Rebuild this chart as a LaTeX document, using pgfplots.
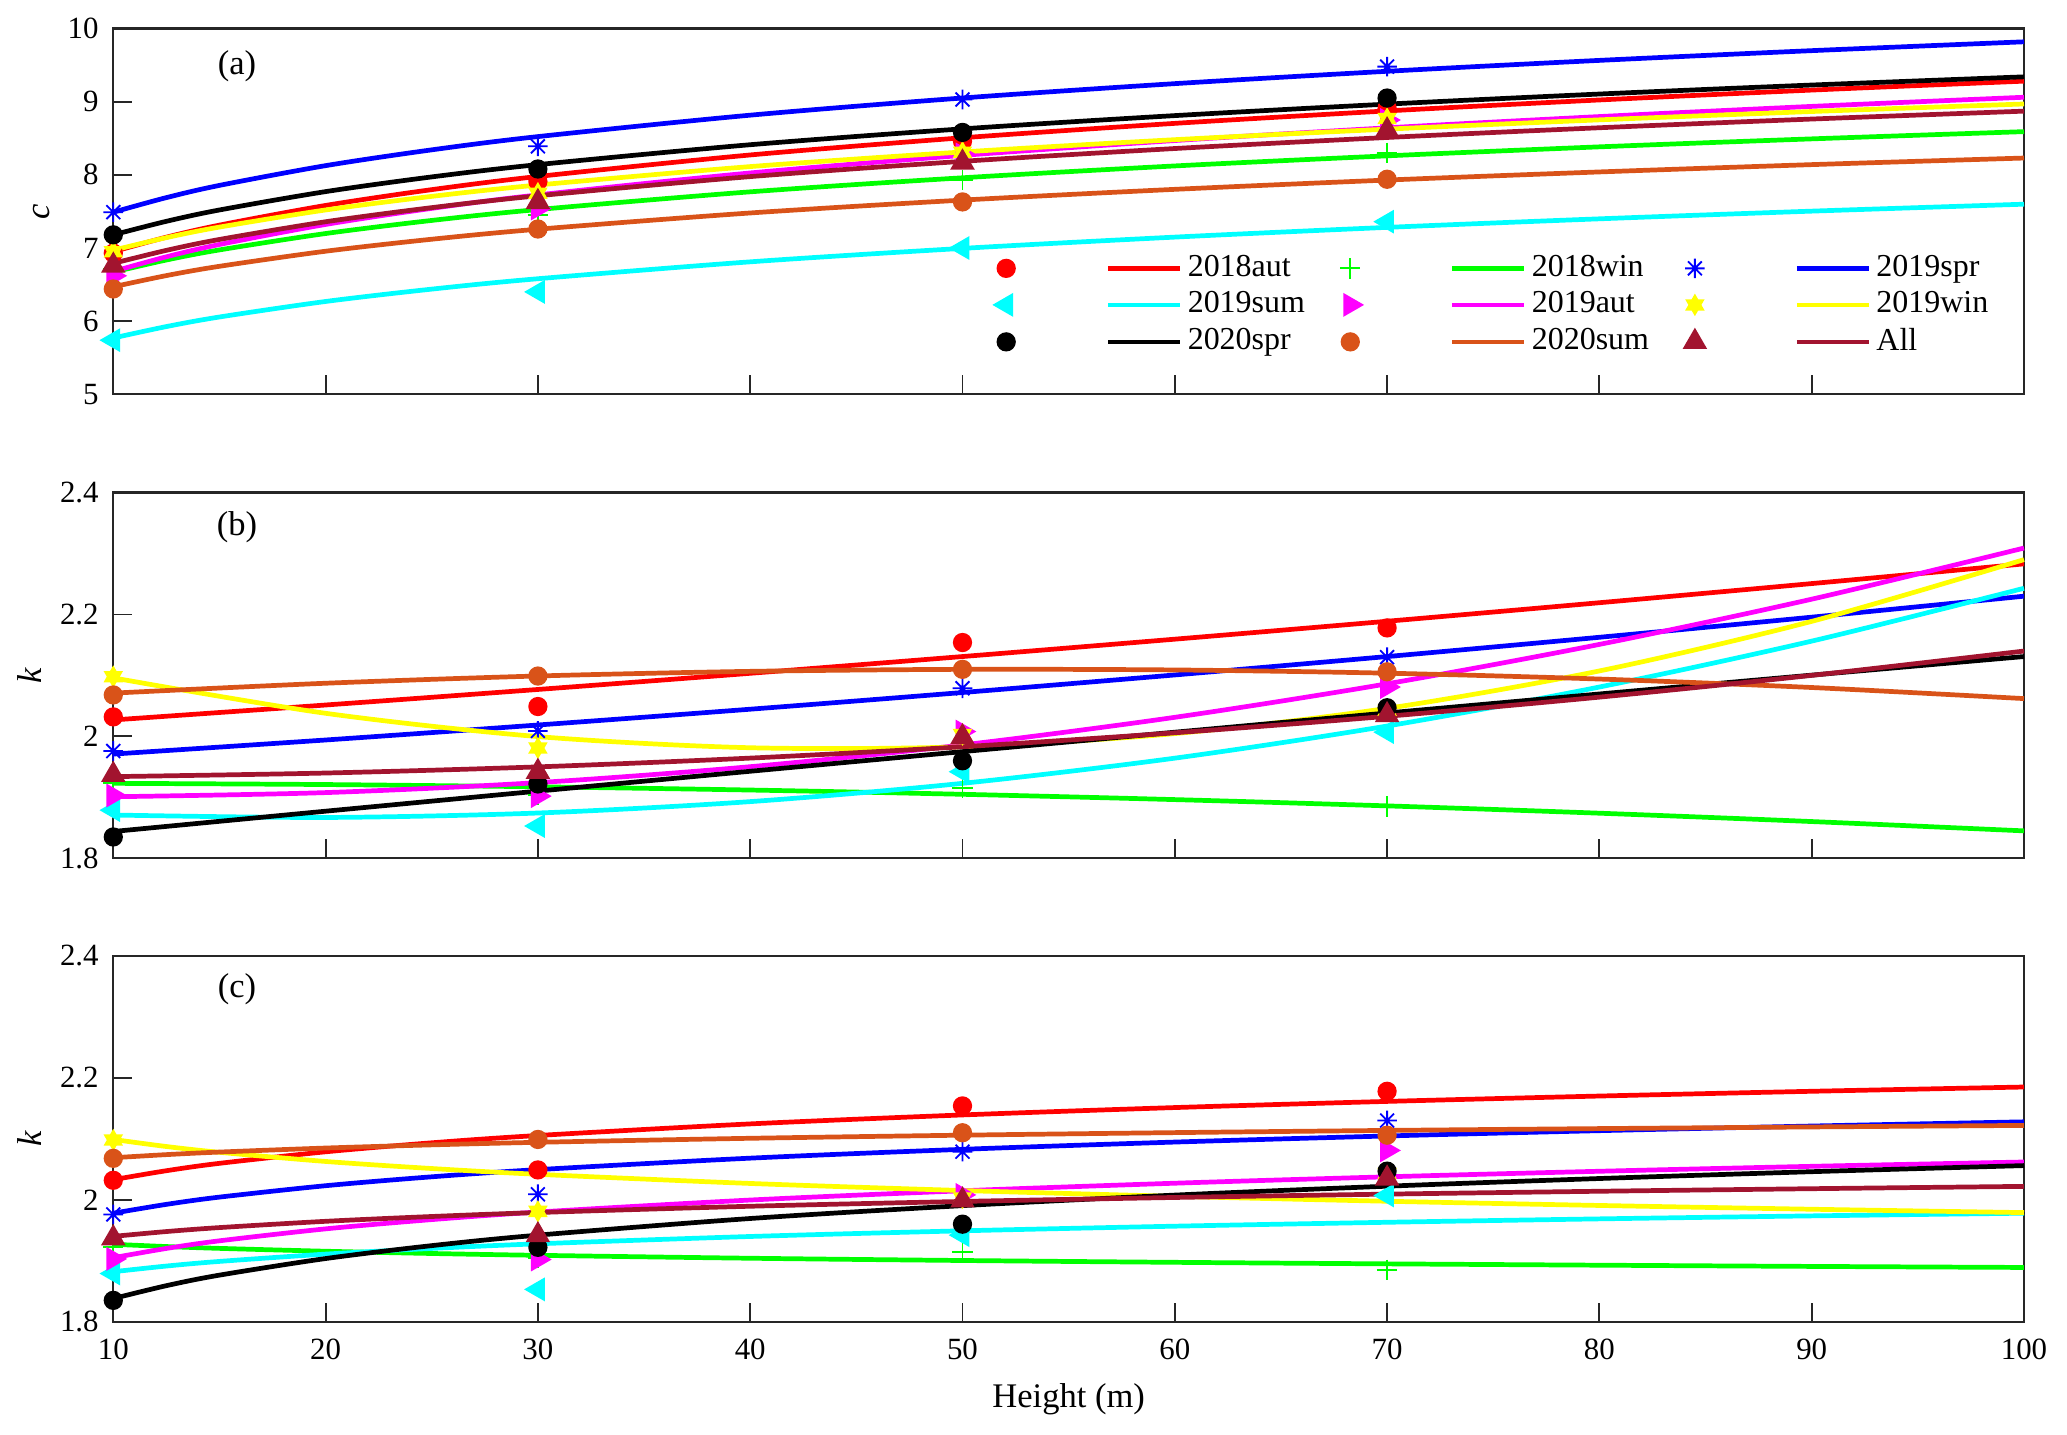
\documentclass[border=0pt]{standalone}
\usepackage{fontspec}
\setmainfont{Liberation Serif}
\usepackage{pgfplots}
\usepackage{pgfplotstable}
\pgfplotsset{compat=1.18}
\usetikzlibrary{plotmarks}

\definecolor{mred}{rgb}{1,0,0}
\definecolor{mgreen}{rgb}{0,1,0}
\definecolor{mblue}{rgb}{0,0,1}
\definecolor{mcyan}{rgb}{0,1,1}
\definecolor{mmag}{rgb}{1,0,1}
\definecolor{myel}{rgb}{1,1,0}
\definecolor{morange}{rgb}{0.85,0.325,0.098}
\definecolor{mall}{rgb}{0.635,0.078,0.184}

\pgfdeclareplotmark{mstar}{%
  \pgfpathmoveto{\pgfqpoint{0pt}{\pgfplotmarksize}}\pgfpathlineto{\pgfqpoint{0pt}{-\pgfplotmarksize}}%
  \pgfpathmoveto{\pgfqpoint{\pgfplotmarksize}{0pt}}\pgfpathlineto{\pgfqpoint{-\pgfplotmarksize}{0pt}}%
  \pgfpathmoveto{\pgfqpoint{0.7071\pgfplotmarksize}{0.7071\pgfplotmarksize}}\pgfpathlineto{\pgfqpoint{-0.7071\pgfplotmarksize}{-0.7071\pgfplotmarksize}}%
  \pgfpathmoveto{\pgfqpoint{0.7071\pgfplotmarksize}{-0.7071\pgfplotmarksize}}\pgfpathlineto{\pgfqpoint{-0.7071\pgfplotmarksize}{0.7071\pgfplotmarksize}}%
  \pgfusepathqstroke}
\pgfdeclareplotmark{hexagram}{%
  \pgfpathmoveto{\pgfqpointpolar{90}{\pgfplotmarksize}}%
  \pgfpathlineto{\pgfqpointpolar{210}{\pgfplotmarksize}}%
  \pgfpathlineto{\pgfqpointpolar{330}{\pgfplotmarksize}}%
  \pgfpathclose
  \pgfpathmoveto{\pgfqpointpolar{270}{\pgfplotmarksize}}%
  \pgfpathlineto{\pgfqpointpolar{30}{\pgfplotmarksize}}%
  \pgfpathlineto{\pgfqpointpolar{150}{\pgfplotmarksize}}%
  \pgfpathclose
  \pgfusepathqfillstroke}

\tikzset{
  s18aut/.style={color=mred, mark=*, mark size=2.4pt},
  s18win/.style={color=mgreen, mark=+, mark size=2.8pt},
  s19spr/.style={color=mblue, mark=mstar, mark size=2.7pt},
  s19sum/.style={color=mcyan, mark=triangle*, mark size=3.3pt, mark options={rotate=90}},
  s19aut/.style={color=mmag, mark=triangle*, mark size=3.3pt, mark options={rotate=-90}},
  s19win/.style={color=myel, mark=hexagram, mark size=2.6pt},
  s20spr/.style={color=black, mark=*, mark size=2.4pt},
  s20sum/.style={color=morange, mark=*, mark size=2.4pt},
  sall/.style={color=mall, mark=triangle*, mark size=3.4pt},
}
\pgfplotsset{
  lineopt/.style={mark=none, line width=1.3pt, smooth},
  markopt/.style={only marks, line width=0.5pt},
  myaxis/.style={
    scale only axis, width=18.488cm, height=3.539cm,
    xmin=10, xmax=100, xtick={10,20,...,100},
    axis line style={black!85, line width=0.6pt},
    tick style={black!85, line width=0.5pt},
    tick align=inside, major tick length=0.185cm,
    tick pos=left,
    clip=false,
    /pgf/number format/assume math mode=true,
    tick label style={font=\fontsize{8.5}{10}\selectfont},
    yticklabel style={inner xsep=0pt, xshift=-0.135cm},
    xticklabel style={anchor=center, yshift=-0.27cm},
    label style={font=\fontsize{9.5}{11}\selectfont},
  },
}

% fitted curves, panel (a): c
\pgfplotstableread{
x    red   grn   blue  cyan  mag   yel   blk   org   all
10   6.950 6.670 7.490 5.770 6.680 6.970 7.180 6.470 6.790
12.5 7.148 6.836 7.689 5.926 6.880 7.142 7.365 6.623 6.968
15   7.313 6.974 7.856 6.057 7.048 7.286 7.520 6.750 7.117
20   7.582 7.198 8.126 6.269 7.322 7.520 7.771 6.956 7.359
25   7.798 7.377 8.342 6.438 7.542 7.706 7.972 7.120 7.552
30   7.978 7.526 8.523 6.580 7.726 7.861 8.140 7.257 7.714
40   8.272 7.768 8.816 6.811 8.026 8.113 8.412 7.479 7.976
50   8.507 7.960 9.051 6.995 8.266 8.313 8.629 7.655 8.185
60   8.704 8.122 9.247 7.149 8.469 8.481 8.810 7.802 8.360
70   8.874 8.260 9.416 7.282 8.643 8.625 8.967 7.929 8.511
80   9.024 8.383 9.565 7.399 8.797 8.752 9.105 8.040 8.644
90   9.159 8.492 9.698 7.504 8.936 8.866 9.228 8.140 8.763
100  9.281 8.591 9.819 7.599 9.061 8.969 9.340 8.230 8.871
}\LA
% measured points, panel (a)
\pgfplotstableread{
x  red  grn  blue cyan mag  yel  blk  org  all
10 6.93 6.71 7.49 5.74 6.62 6.95 7.18 6.44 6.76
30 7.91 7.45 8.39 6.40 7.54 7.75 8.08 7.26 7.63
50 8.46 7.93 9.03 7.00 8.28 8.31 8.58 7.63 8.17
70 8.91 8.30 9.48 7.36 8.75 8.77 9.05 7.94 8.61
}\MA
% fitted curves, panel (b)
\pgfplotstableread{
x   red    grn    blue   cyan   mag    yel    blk    org    all
10  2.027  1.923  1.971  1.871  1.901  2.096  1.844  2.071  1.934
20  2.0515 1.921  1.9941 1.867  1.9078 2.0379 1.8773 2.0872 1.9399
30  2.077  1.9173 2.0187 1.8743 1.9242 1.9997 1.9102 2.0991 1.950
40  2.1035 1.912  2.0446 1.893  1.9503 1.9814 1.9428 2.1067 1.9644
50  2.131  1.905  2.072  1.923  1.986  1.983  1.975  2.110  1.983
60  2.1595 1.8963 2.1008 1.9643 2.0313 2.0046 2.0069 2.109  2.0059
70  2.1889 1.886  2.131  2.017  2.0863 2.046  2.0384 2.1037 2.033
80  2.2193 1.874  2.1626 2.081  2.1509 2.1074 2.0696 2.0941 2.0644
90  2.2507 1.8603 2.1956 2.1563 2.2251 2.1887 2.1005 2.0802 2.1001
100 2.283  1.845  2.230  2.243  2.309  2.290  2.131  2.062  2.140
}\LB
% fitted curves, panel (c)
\pgfplotstableread{
x    red    grn    blue   cyan   mag    yel    blk    org    all
10   2.033  1.927  1.978  1.882  1.905  2.099  1.838  2.069  1.940
12.5 2.0477 1.9233 1.9925 1.8913 1.9202 2.0874 1.8591 2.0741 1.9479
15   2.0598 1.9203 2.0044 1.8989 1.9327 2.0779 1.8764 2.0783 1.9544
20   2.0787 1.9156 2.0231 1.9109 1.9523 2.0629 1.9036 2.0849 1.9647
25   2.0935 1.9119 2.0377 1.9202 1.9675 2.0513 1.9248 2.0901 1.9726
30   2.1055 1.9089 2.0495 1.9278 1.9799 2.0418 1.9420 2.0943 1.9791
40   2.1245 1.9041 2.0683 1.9398 1.9996 2.0268 1.9693 2.1009 1.9894
50   2.1392 1.9004 2.0828 1.9491 2.0148 2.0152 1.9904 2.1060 1.9973
60   2.1513 1.8974 2.0947 1.9567 2.0272 2.0057 2.0077 2.1102 2.0038
70   2.1614 1.8949 2.1047 1.9631 2.0377 1.9976 2.0223 2.1138 2.0093
80   2.1702 1.8927 2.1134 1.9687 2.0468 1.9907 2.0349 2.1168 2.0140
90   2.1780 1.8907 2.1210 1.9736 2.0549 1.9845 2.0461 2.1195 2.0182
100  2.1850 1.8890 2.1279 1.9780 2.0620 1.9790 2.0561 2.1220 2.0220
}\LC
% measured points k, panels (b) and (c)
\pgfplotstableread{
x  red   grn   blue  cyan  mag   yel   blk   org   all
10 2.032 1.923 1.976 1.879 1.903 2.098 1.835 2.068 1.937
30 2.049 1.904 2.009 1.853 1.902 1.981 1.922 2.099 1.942
50 2.154 1.915 2.079 1.942 2.008 2.003 1.960 2.110 1.999
70 2.178 1.885 2.130 2.007 2.081 2.043 2.047 2.106 2.035
}\MK

\newcommand{\oneseries}[4]{% style, column, lines table, marks table
  \addplot[#1, markopt, forget plot] table[x=x, y=#2]{#4};
  \addplot[#1, lineopt, forget plot] table[x=x, y=#2]{#3};
}
\newcommand{\allseries}[2]{%
  \oneseries{s18aut}{red}{#1}{#2}
  \oneseries{s18win}{grn}{#1}{#2}
  \oneseries{s19spr}{blue}{#1}{#2}
  \oneseries{s19sum}{cyan}{#1}{#2}
  \oneseries{s19aut}{mag}{#1}{#2}
  \oneseries{s19win}{yel}{#1}{#2}
  \oneseries{s20spr}{blk}{#1}{#2}
  \oneseries{s20sum}{org}{#1}{#2}
  \oneseries{sall}{all}{#1}{#2}
}

\begin{document}
\begin{tikzpicture}
% ---------- (a) ----------
\begin{axis}[myaxis, at={(0cm,8.9734cm)}, anchor=south west,
  ymin=5, ymax=10, ytick={5,6,...,10}, xticklabels={},
  ylabel={\textit{c}},
  ylabel style={at={(axis description cs:-0.0378,0.5)}, anchor=center},
  legend columns=3,
  legend cell align=left,
  legend style={draw=none, fill=none, inner sep=0pt,
    font=\fontsize{8.8}{10}\selectfont,
    at={(axis cs:51.46,6.985)}, anchor=north west,
    nodes={inner sep=0.05cm},
    row sep=-0.005cm,
    /tikz/every even column/.append style={column sep=0.29cm}},
  legend image code/.code={%
    \draw[#1, mark=none, line width=1.3pt] (0.987cm,0cm) -- (1.684cm,0cm);
    \draw[#1, line width=0.5pt] plot[only marks] coordinates {(0cm,0cm)};
  },
]
\allseries{\LA}{\MA}
\node[font=\fontsize{9.5}{11}\selectfont] at (axis cs:15.83,9.49) {(a)};
\addlegendimage{s18aut}\addlegendentry{2018aut}
\addlegendimage{s18win}\addlegendentry{2018win}
\addlegendimage{s19spr}\addlegendentry{2019spr}
\addlegendimage{s19sum}\addlegendentry{2019sum}
\addlegendimage{s19aut}\addlegendentry{2019aut}
\addlegendimage{s19win}\addlegendentry{2019win}
\addlegendimage{s20spr}\addlegendentry{2020spr}
\addlegendimage{s20sum}\addlegendentry{2020sum}
\addlegendimage{sall}\addlegendentry{All}
\end{axis}
% ---------- (b) ----------
\begin{axis}[myaxis, at={(0cm,4.4838cm)}, anchor=south west,
  ymin=1.8, ymax=2.4, ytick={1.8,2,2.2,2.4}, xticklabels={},
  ylabel={\textit{k}},
  ylabel style={at={(axis description cs:-0.0441,0.5)}, anchor=center},
]
\allseries{\LB}{\MK}
\node[font=\fontsize{9.5}{11}\selectfont] at (axis cs:15.83,2.343) {(b)};
\end{axis}
% ---------- (c) ----------
\begin{axis}[myaxis, at={(0cm,0cm)}, anchor=south west,
  ymin=1.8, ymax=2.4, ytick={1.8,2,2.2,2.4},
  ylabel={\textit{k}},
  ylabel style={at={(axis description cs:-0.0441,0.5)}, anchor=center},
  xlabel={Height (m)},
  xlabel style={at={(axis description cs:0.5,0)}, anchor=center, yshift=-0.755cm},
]
\allseries{\LC}{\MK}
\node[font=\fontsize{9.5}{11}\selectfont] at (axis cs:15.83,2.345) {(c)};
\end{axis}
\pgfresetboundingbox
\useasboundingbox (-1.0963cm,-1.0866cm) rectangle (18.904cm,12.789cm);
\end{tikzpicture}
\end{document}
